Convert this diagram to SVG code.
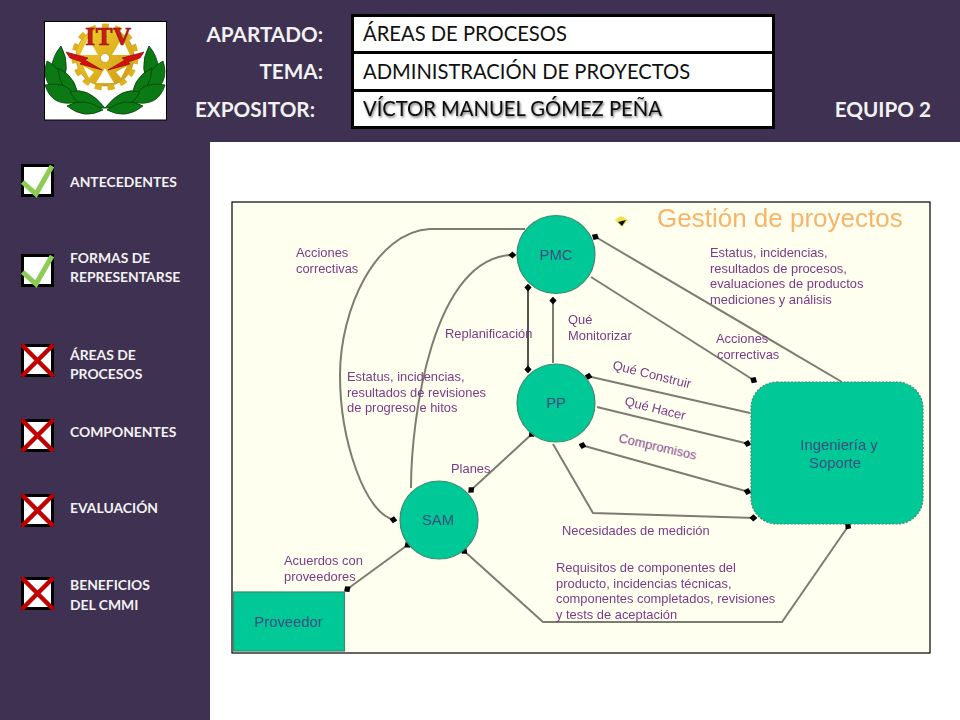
<svg xmlns="http://www.w3.org/2000/svg" width="960" height="720" viewBox="0 0 960 720">
<defs>
<marker id="dot" viewBox="0 0 10 10" refX="7" refY="5" markerWidth="8" markerHeight="8" markerUnits="userSpaceOnUse" orient="auto-start-reverse"><path d="M0 5 L5 .5 L10 5 L5 9.5 Z" fill="#000"/></marker>
<filter id="softer" x="-5%" y="-5%" width="110%" height="110%"><feGaussianBlur stdDeviation="0.5"/></filter>
<filter id="shadow" x="-5%" y="-20%" width="110%" height="150%"><feDropShadow dx="1" dy="1.5" stdDeviation="1" flood-color="#000" flood-opacity="0.6"/></filter>
<linearGradient id="gold" x1="0" y1="0" x2="1" y2="1"><stop offset="0" stop-color="#f2d030"/><stop offset="1" stop-color="#d09a10"/></linearGradient>
</defs>
<style>
.hd{font-family:Lato,"Open Sans",sans-serif;font-weight:700;fill:#f2f2f2;font-size:20.7px}
.bx{font-family:Lato,"Open Sans",sans-serif;font-size:20.2px;fill:#111}
.side{font-family:Lato,"Open Sans",sans-serif;font-weight:700;fill:#f2f2f2;font-size:13.9px}
.cb{fill:#fff;stroke:#000;stroke-width:3}
.ck{fill:none;stroke:#8ccc55;stroke-width:5}
.xx{fill:none;stroke:#c00000;stroke-width:4.5;stroke-linecap:round}
.box{fill:#fff;stroke:#000;stroke-width:3}
.lab{font-family:"Liberation Sans",Arial,sans-serif;font-size:12.9px;fill:#7b3b85}
.nl{font-family:"Liberation Sans",Arial,sans-serif;font-size:14.8px;fill:#3e4c7e}
.nd{fill:#00c896;stroke:#3a8a70;stroke-width:1.2}
.ln{fill:none;stroke:#7c7c70;stroke-width:2}
.leaf{fill:#0c7a14;stroke:#06400a;stroke-width:0.8}
.itv{font-family:"Liberation Serif",serif;font-weight:700;font-size:25px;fill:#d01818;stroke:#8a1010;stroke-width:.7;text-anchor:middle}
</style>
<rect id="background" width="960" height="720" fill="#fff"/>
<rect id="top-band" width="960" height="142" fill="#3f3151"/>
<rect id="sidebar" y="142" width="210" height="578" fill="#3f3151"/>

<g id="logo">
<rect x="44.5" y="21.5" width="122" height="98.5" fill="#fff" stroke="#000" stroke-width="1"/>
<path class="leaf" d="M58 92 Q44 66 61 46 Q73 68 58 92Z"/>
<path class="leaf" d="M64 98 Q39 84 47 61 Q68 72 64 98Z"/>
<path class="leaf" d="M78 102 Q59 90 58 68 Q79 78 78 102Z"/>
<path class="leaf" d="M78 102 Q52 108 45 85 Q70 80 78 102Z"/>
<path class="leaf" d="M105 108 Q88 86 70 92 Q78 110 105 108Z"/>
<path class="leaf" d="M103 110 Q84 120 67 106 Q85 96 103 110Z"/>
<path class="leaf" d="M152 92 Q166 66 149 46 Q137 68 152 92Z"/>
<path class="leaf" d="M146 98 Q171 84 163 61 Q142 72 146 98Z"/>
<path class="leaf" d="M132 102 Q151 90 152 68 Q131 78 132 102Z"/>
<path class="leaf" d="M132 102 Q158 108 165 85 Q140 80 132 102Z"/>
<path class="leaf" d="M105 108 Q122 86 140 92 Q132 110 105 108Z"/>
<path class="leaf" d="M107 110 Q126 120 143 106 Q125 96 107 110Z"/>
<circle cx="105" cy="57" r="29" fill="url(#gold)" stroke="#9a7a10" stroke-width="0.6"/>
<circle cx="105" cy="57" r="31" fill="none" stroke="#e0b020" stroke-width="5" stroke-dasharray="7 5.98"/>
<path d="M80 55 L98 55 L88 38Z M112 55 L130 55 L122 38Z M105 68 L114 83 L96 83Z M83 66 L94 72 L89 78Z M127 66 L116 72 L121 78Z" fill="#fff"/>
<circle cx="105" cy="58" r="4.5" fill="#fff" stroke="#a88410" stroke-width="0.6"/>
<path d="M66 52 L88 58 L85 60 L102 70 L80 64 L82 62 L70 58Z M144 52 L122 58 L125 60 L108 70 L130 64 L128 62 L140 58Z" fill="#d80f0f" stroke="#700" stroke-width="0.6"/>
<text class="itv" x="90" y="45">I</text>
<text class="itv" x="104" y="45">T</text>
<text class="itv" x="122" y="45">V</text>
</g>

<g id="header-labels">
<text class="hd" x="323" y="42" text-anchor="end">APARTADO:</text>
<text class="hd" x="323" y="79" text-anchor="end">TEMA:</text>
<text class="hd" x="315" y="117" text-anchor="end">EXPOSITOR:</text>
<text class="hd" x="931" y="117" text-anchor="end">EQUIPO 2</text>
</g>
<g id="box-apartado"><rect class="box" x="352.5" y="15.5" width="421" height="37"/><text class="bx" x="363" y="41">ÁREAS DE PROCESOS</text></g>
<g id="box-tema"><rect class="box" x="352.5" y="52.5" width="421" height="38"/><text class="bx" x="363" y="79">ADMINISTRACIÓN DE PROYECTOS</text></g>
<g id="box-expositor"><rect class="box" x="352.5" y="90.5" width="421" height="37"/><text class="bx" x="363" y="116" filter="url(#shadow)">VÍCTOR MANUEL GÓMEZ PEÑA</text></g>

<g id="item-antecedentes"><rect class="cb" x="22.5" y="165.5" width="30" height="30"/><polyline class="ck" points="22.5,182 36,194 52,166"/><text class="side" x="70" y="187">ANTECEDENTES</text></g>
<g id="item-formas"><rect class="cb" x="22.5" y="255.5" width="30" height="30"/><polyline class="ck" points="22.5,272 36,284 52,256"/><text class="side" x="70" y="263">FORMAS DE</text><text class="side" x="70" y="282">REPRESENTARSE</text></g>
<g id="item-areas"><rect class="cb" x="22.5" y="345.5" width="30" height="30"/><path class="xx" d="M23 346L52 375M52 346L23 375"/><text class="side" x="70" y="360">ÁREAS DE</text><text class="side" x="70" y="379">PROCESOS</text></g>
<g id="item-componentes"><rect class="cb" x="22.5" y="420.5" width="30" height="30"/><path class="xx" d="M23 421L52 450M52 421L23 450"/><text class="side" x="70" y="437">COMPONENTES</text></g>
<g id="item-evaluacion"><rect class="cb" x="22.5" y="495.5" width="30" height="30"/><path class="xx" d="M23 496L52 525M52 496L23 525"/><text class="side" x="70" y="513">EVALUACIÓN</text></g>
<g id="item-beneficios"><rect class="cb" x="22.5" y="578.5" width="30" height="30"/><path class="xx" d="M23 579L52 608M52 579L23 608"/><text class="side" x="70" y="590">BENEFICIOS</text><text class="side" x="70" y="610">DEL CMMI</text></g>

<rect id="figure-frame" x="232" y="202" width="698" height="451" fill="#fffff0" stroke="#000" stroke-width="1.2"/>

<g id="connectors" filter="url(#softer)">
<path class="ln" marker-end="url(#dot)" d="M525 229 L430 229 C375 232 340 310 340 375 C340 440 365 515 395 520"/>
<path class="ln" marker-end="url(#dot)" d="M411 488 C411 420 432 255 514 255"/>
<path class="ln" style="stroke:#55554d" marker-start="url(#dot)" marker-end="url(#dot)" d="M528 286 L528 371"/>
<path class="ln" marker-end="url(#dot)" d="M553 363 L553 299"/>
<path class="ln" marker-end="url(#dot)" d="M842 382 L594 236"/>
<path class="ln" marker-end="url(#dot)" d="M591 277 L755 381"/>
<path class="ln" marker-end="url(#dot)" d="M750 413 L587 376"/>
<path class="ln" marker-end="url(#dot)" d="M597 407 L749 444"/>
<path class="ln" marker-start="url(#dot)" marker-end="url(#dot)" d="M581 445 L749 492"/>
<path class="ln" marker-end="url(#dot)" d="M553 444 L593 513 L755 518"/>
<path class="ln" marker-start="url(#dot)" marker-end="url(#dot)" d="M533 433 L470 491"/>
<path class="ln" marker-start="url(#dot)" marker-end="url(#dot)" d="M346 590 L409 544"/>
<path class="ln" marker-start="url(#dot)" marker-end="url(#dot)" d="M463 550 L543 622 L782 622 L849 525"/>
</g>

<g id="node-pmc" filter="url(#softer)"><circle class="nd" cx="556" cy="254.5" r="39"/><text class="nl" x="556" y="260" text-anchor="middle">PMC</text></g>
<g id="node-pp" filter="url(#softer)"><circle class="nd" cx="556" cy="403" r="39"/><text class="nl" x="556" y="408" text-anchor="middle">PP</text></g>
<g id="node-sam" filter="url(#softer)"><circle class="nd" cx="439" cy="520" r="39"/><text class="nl" x="438" y="525" text-anchor="middle">SAM</text></g>
<g id="node-ingenieria" filter="url(#softer)"><rect class="nd" x="751" y="382" width="172" height="142" rx="26" stroke-dasharray="2 1.5"/><text class="nl" x="839" y="450" text-anchor="middle">Ingeniería y</text><text class="nl" x="835" y="468" text-anchor="middle">Soporte</text></g>
<g id="node-proveedor" filter="url(#softer)"><rect class="nd" x="233.5" y="592" width="111" height="59"/><text class="nl" x="288.5" y="627" text-anchor="middle">Proveedor</text></g>

<g id="figure-labels" filter="url(#softer)">
<text x="657" y="227" font-family="Liberation Sans,Arial,sans-serif" font-size="26" fill="#f8b468">Gestión de proyectos</text>
<path d="M615 220 L621 216 L628 220 L622 227Z" fill="#f0e040"/><path d="M618 222 L626 220 L622 226Z" fill="#111"/>
<text class="lab" x="296" y="257">Acciones</text><text class="lab" x="296" y="273">correctivas</text>
<text class="lab" x="445" y="338">Replanificación</text>
<text class="lab" x="347" y="381">Estatus, incidencias,</text><text class="lab" x="347" y="397">resultados de revisiones</text><text class="lab" x="347" y="412">de progreso e hitos</text>
<text class="lab" x="568" y="324">Qué</text><text class="lab" x="568" y="340">Monitorizar</text>
<text class="lab" x="710" y="257">Estatus, incidencias,</text><text class="lab" x="710" y="273">resultados de procesos,</text><text class="lab" x="710" y="288">evaluaciones de productos</text><text class="lab" x="710" y="304">mediciones y análisis</text>
<text class="lab" x="716" y="343">Acciones</text><text class="lab" x="717" y="359">correctivas</text>
<text class="lab" transform="translate(612 369) rotate(14)">Qué Construir</text>
<text class="lab" transform="translate(624 405) rotate(14)">Qué Hacer</text>
<text class="lab" transform="translate(618 442) rotate(13)">Compromisos</text>
<text class="lab" x="451" y="473">Planes</text>
<text class="lab" x="284" y="565">Acuerdos con</text><text class="lab" x="284" y="581">proveedores</text>
<text class="lab" x="562" y="535">Necesidades de medición</text>
<text class="lab" x="556" y="572">Requisitos de componentes del</text><text class="lab" x="556" y="588">producto, incidencias técnicas,</text><text class="lab" x="556" y="603">componentes completados, revisiones</text><text class="lab" x="556" y="619">y tests de aceptación</text>
</g>
</svg>
